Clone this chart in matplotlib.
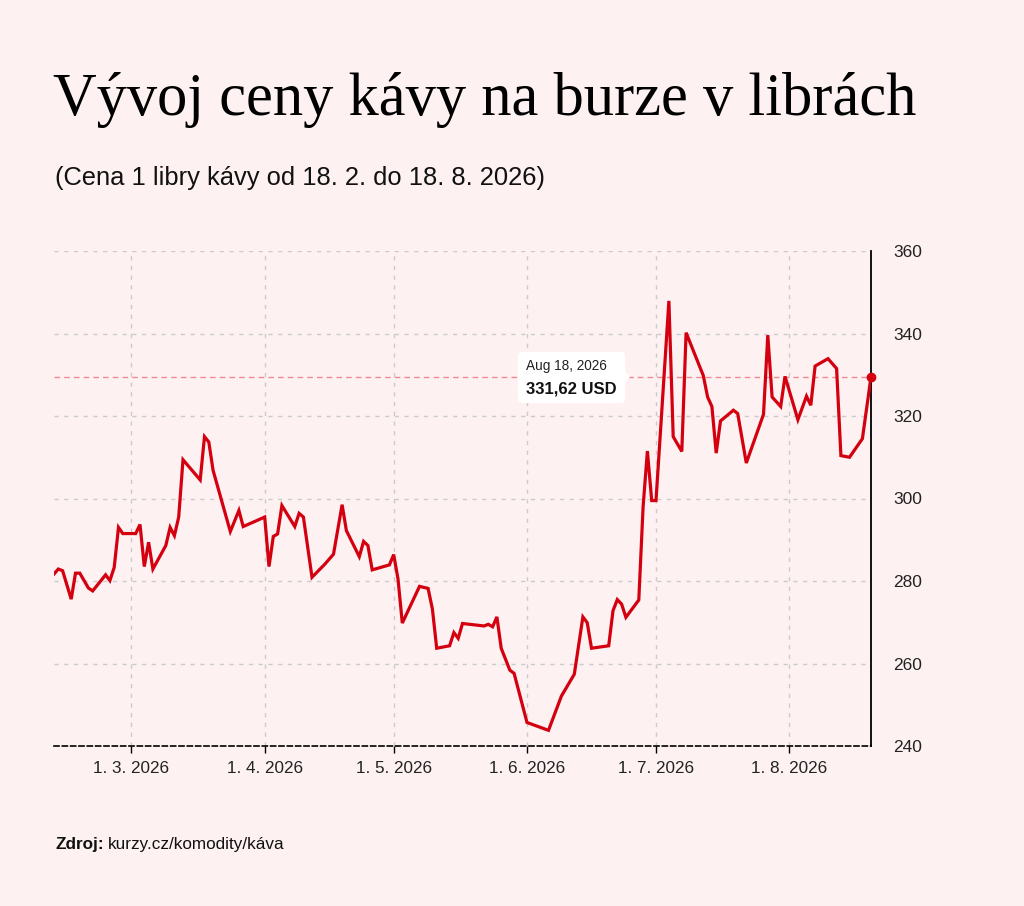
import matplotlib
matplotlib.use("Agg")
import matplotlib.pyplot as plt
import matplotlib.dates as mdates
from matplotlib.patches import FancyBboxPatch, Polygon
import pandas as pd

# data
dates = [
    "2026-02-11", "2026-02-12", "2026-02-13", "2026-02-15", "2026-02-16", "2026-02-17",
    "2026-02-19", "2026-02-20", "2026-02-23", "2026-02-24", "2026-02-25", "2026-02-26",
    "2026-02-27", "2026-03-02", "2026-03-03", "2026-03-04", "2026-03-05", "2026-03-06",
    "2026-03-09", "2026-03-10", "2026-03-11", "2026-03-12", "2026-03-13", "2026-03-17",
    "2026-03-18", "2026-03-19", "2026-03-20", "2026-03-24", "2026-03-26", "2026-03-27",
    "2026-04-01", "2026-04-02", "2026-04-03", "2026-04-04", "2026-04-05", "2026-04-08",
    "2026-04-09", "2026-04-10", "2026-04-12", "2026-04-15", "2026-04-17", "2026-04-19",
    "2026-04-20", "2026-04-23", "2026-04-24", "2026-04-25", "2026-04-26", "2026-04-30",
    "2026-05-01", "2026-05-02", "2026-05-03", "2026-05-07", "2026-05-09", "2026-05-10",
    "2026-05-11", "2026-05-14", "2026-05-15", "2026-05-16", "2026-05-17", "2026-05-22",
    "2026-05-23", "2026-05-24", "2026-05-25", "2026-05-26", "2026-05-28", "2026-05-29",
    "2026-06-01", "2026-06-06", "2026-06-09", "2026-06-12", "2026-06-14", "2026-06-15",
    "2026-06-16", "2026-06-20", "2026-06-21", "2026-06-22", "2026-06-23", "2026-06-24",
    "2026-06-27", "2026-06-28", "2026-06-29", "2026-06-30", "2026-07-01", "2026-07-04",
    "2026-07-05", "2026-07-07", "2026-07-08", "2026-07-12", "2026-07-13", "2026-07-14",
    "2026-07-15", "2026-07-16", "2026-07-19", "2026-07-20", "2026-07-22", "2026-07-26",
    "2026-07-27", "2026-07-28", "2026-07-30", "2026-07-31", "2026-08-03", "2026-08-05",
    "2026-08-06", "2026-08-07", "2026-08-10", "2026-08-12", "2026-08-13", "2026-08-15",
    "2026-08-18", "2026-08-20",
]
prices = [
    281.7, 282.9, 282.5, 275.6, 281.9, 281.9,
    278.3, 277.6, 281.5, 280.1, 283.3, 293.0,
    291.5, 291.5, 293.7, 283.5, 289.4, 282.9,
    288.6, 293.0, 291.0, 295.5, 309.4, 304.5,
    315.0, 313.7, 306.8, 292.0, 297.1, 293.2,
    295.5, 283.5, 290.8, 291.4, 298.3, 293.2,
    296.4, 295.5, 280.9, 284.1, 286.5, 298.5,
    292.2, 285.9, 289.6, 288.6, 282.7, 283.9,
    286.4, 280.5, 269.8, 278.7, 278.2, 273.2,
    263.7, 264.3, 267.5, 266.1, 269.7, 269.1,
    269.5, 268.9, 271.3, 263.7, 258.4, 257.6,
    245.7, 243.8, 252.1, 257.4, 271.3, 269.9,
    263.7, 264.3, 272.8, 275.5, 274.4, 271.2,
    275.4, 298.0, 311.5, 299.5, 299.5, 347.9,
    315.0, 311.4, 340.2, 329.8, 324.6, 322.3,
    311.0, 318.8, 321.4, 320.6, 308.6, 320.4,
    339.6, 324.6, 322.3, 329.6, 319.1, 324.8,
    322.6, 332.1, 333.9, 331.5, 310.4, 310.0,
    314.5, 329.5,
]
y_ticks = [240, 260, 280, 300, 320, 340, 360]
month_ticks = ["2026-03-01", "2026-04-01", "2026-05-01", "2026-06-01", "2026-07-01", "2026-08-01"]

title = "Vývoj ceny kávy na burze v librách"
subtitle = "(Cena 1 libry kávy od 18. 2. do 18. 8. 2026)"
tip_date = "Aug 18, 2026"
tip_value = "331,62 USD"

bg = "#fdf1f1"
red = "#d4000f"
sans = ["Liberation Sans", "DejaVu Sans"]

x = pd.to_datetime(dates)

fig = plt.figure(figsize=(10.24, 9.06), dpi=100, facecolor=bg)
ax = fig.add_axes([54 / 1024, 1 - 746 / 906, 817 / 1024, 495 / 906])
ax.set_facecolor(bg)

ax.plot(x, prices, color=red, lw=2.3, solid_joinstyle="miter", zorder=3)
ax.axhline(prices[-1], color="#f08a92", lw=1, ls=(0, (4, 3)), zorder=2)
ax.plot(x[-1], prices[-1], "o", color=red, ms=6, zorder=4, clip_on=False)

ax.set_xlim(x[0], x[-1])
ax.set_ylim(240, 360)
ax.set_yticks(y_ticks)
ax.set_xticks(pd.to_datetime(month_ticks))
ax.xaxis.set_major_formatter(plt.FuncFormatter(
    lambda v, p: "%d. %d. %d" % (mdates.num2date(v).day, mdates.num2date(v).month, mdates.num2date(v).year)))

ax.grid(True, color="#cbcbcb", lw=1, ls=(0, (3, 4)), zorder=1)
ax.yaxis.tick_right()
ax.tick_params(axis="y", length=0, pad=16, labelsize=12.5, labelcolor="#222222")
ax.tick_params(axis="x", length=5, width=1, color="black", pad=6, labelsize=12.3, labelcolor="#222222")
for lab in ax.get_xticklabels() + ax.get_yticklabels():
    lab.set_family(sans)

ax.spines["top"].set_visible(False)
ax.spines["left"].set_visible(False)
ax.spines["right"].set_color("black")
ax.spines["right"].set_linewidth(1.3)
ax.spines["bottom"].set_color("black")
ax.spines["bottom"].set_linewidth(1.2)
ax.spines["bottom"].set_linestyle((0, (3, 2)))

# titles
fig.text(53 / 1024, 1 - 115 / 906, title, family=["Liberation Serif", "DejaVu Serif"],
         fontsize=43.6, va="baseline", ha="left", color="black")
fig.text(55 / 1024, 1 - 185 / 906, subtitle, family=sans, fontsize=18.4,
         va="baseline", ha="left", color="#111111")

# tooltip
box = FancyBboxPatch((518 / 1024, 1 - 403 / 906), 107 / 1024, 51 / 906,
                     boxstyle="round,pad=0,rounding_size=0.004", transform=fig.transFigure,
                     facecolor="white", edgecolor="none", zorder=5)
fig.patches.append(box)
arrow = Polygon([(624 / 1024, 1 - 371 / 906), (630 / 1024, 1 - 377 / 906), (624 / 1024, 1 - 383 / 906)],
                closed=True, transform=fig.transFigure, facecolor="white", edgecolor="none", zorder=5)
fig.patches.append(arrow)
fig.text(526 / 1024, 1 - 370 / 906, tip_date, family=sans, fontsize=9.8, color="#222222",
         va="baseline", ha="left", zorder=6)
fig.text(526 / 1024, 1 - 394 / 906, tip_value, family=sans, fontsize=12, fontweight="bold",
         color="#111111", va="baseline", ha="left", zorder=6)

# source
t1 = fig.text(55 / 1024, 1 - 849 / 906, "Zdroj:", family=sans, fontsize=12.3, fontweight="bold",
              va="baseline", ha="left", color="#111111")
fig.canvas.draw()
bb = t1.get_window_extent()
fig.text((bb.x1 + 4) / 1024, 1 - 849 / 906, "kurzy.cz/komodity/káva", family=sans, fontsize=12.3,
         va="baseline", ha="left", color="#111111")

fig.savefig("out.png", dpi=100, facecolor=bg)
